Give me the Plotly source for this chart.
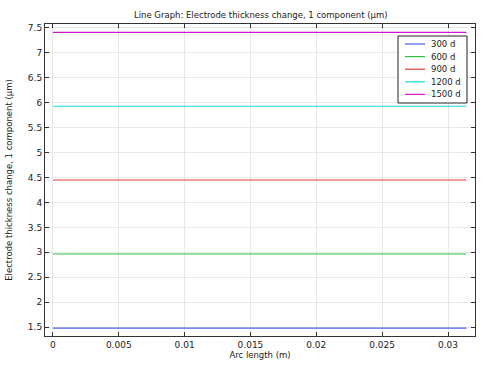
import plotly.graph_objects as go

arc_length = [0.0, 0.0314]
series_names = ["300 d", "600 d", "900 d", "1200 d", "1500 d"]
series_values = [1.48, 2.965, 4.45, 5.93, 7.41]
colors = ["#4f5cf0", "#2ec440", "#e03c3c", "#19d9d9", "#d014d0"]

fig = go.Figure()
for name, v, c in zip(series_names, series_values, colors):
    fig.add_trace(go.Scatter(x=arc_length, y=[v, v], mode="lines", name=name,
                             line=dict(color=c, width=1.2), showlegend=False))

# custom compact legend (paper coordinates)
L, T = 45, 24
W, H = 430, 312
def px(x): return (x - L) / W
def py(y): return 1 - (y - T) / H

shapes = [dict(type="rect", xref="paper", yref="paper",
               x0=px(398), x1=px(467), y0=py(103), y1=py(36),
               line=dict(color="#222", width=1), fillcolor="white", layer="above")]
annotations = []
for i, (name, c) in enumerate(zip(series_names, colors)):
    yy = 44 + i * 12.6
    shapes.append(dict(type="line", xref="paper", yref="paper",
                       x0=px(405), x1=px(425), y0=py(yy), y1=py(yy),
                       line=dict(color=c, width=1.2), layer="above"))
    annotations.append(dict(xref="paper", yref="paper", x=px(429), y=py(yy),
                            text=name, showarrow=False, xanchor="left", yanchor="middle",
                            font=dict(size=8.5, color="#222")))

axis_common = dict(showline=True, linecolor="#333", linewidth=1, mirror="ticks",
                   ticks="inside", ticklen=4, tickcolor="#333",
                   showgrid=True, gridcolor="#e8e8e8", gridwidth=1, zeroline=False,
                   tickfont=dict(size=9, color="#222"), automargin=False)

fig.update_layout(
    width=492, height=369,
    margin=dict(l=45, r=17, t=24, b=33),
    paper_bgcolor="white", plot_bgcolor="white",
    font=dict(family="DejaVu Sans", size=8, color="#222"),
    title=dict(text="Line Graph: Electrode thickness change, 1 component (µm)",
               x=0.53, xanchor="center", yref="container", y=1 - 15.5 / 369, yanchor="middle",
               font=dict(size=8.5)),
    xaxis=dict(range=[-0.0006, 0.03205], tickvals=[0, 0.005, 0.01, 0.015, 0.02, 0.025, 0.03],
               ticktext=["0", "0.005", "0.01", "0.015", "0.02", "0.025", "0.03"],
               title=dict(text="Arc length (m)", font=dict(size=8.5), standoff=0),
               **axis_common),
    yaxis=dict(range=[1.32, 7.58], tickvals=[1.5, 2, 2.5, 3, 3.5, 4, 4.5, 5, 5.5, 6, 6.5, 7, 7.5],
               ticktext=["1.5", "2", "2.5", "3", "3.5", "4", "4.5", "5", "5.5", "6", "6.5", "7", "7.5"],
               title=dict(text="Electrode thickness change, 1 component (µm)", font=dict(size=8.5), standoff=13),
               **axis_common),
    shapes=shapes,
    annotations=annotations,
    showlegend=False,
)

fig.write_html("out.html")
